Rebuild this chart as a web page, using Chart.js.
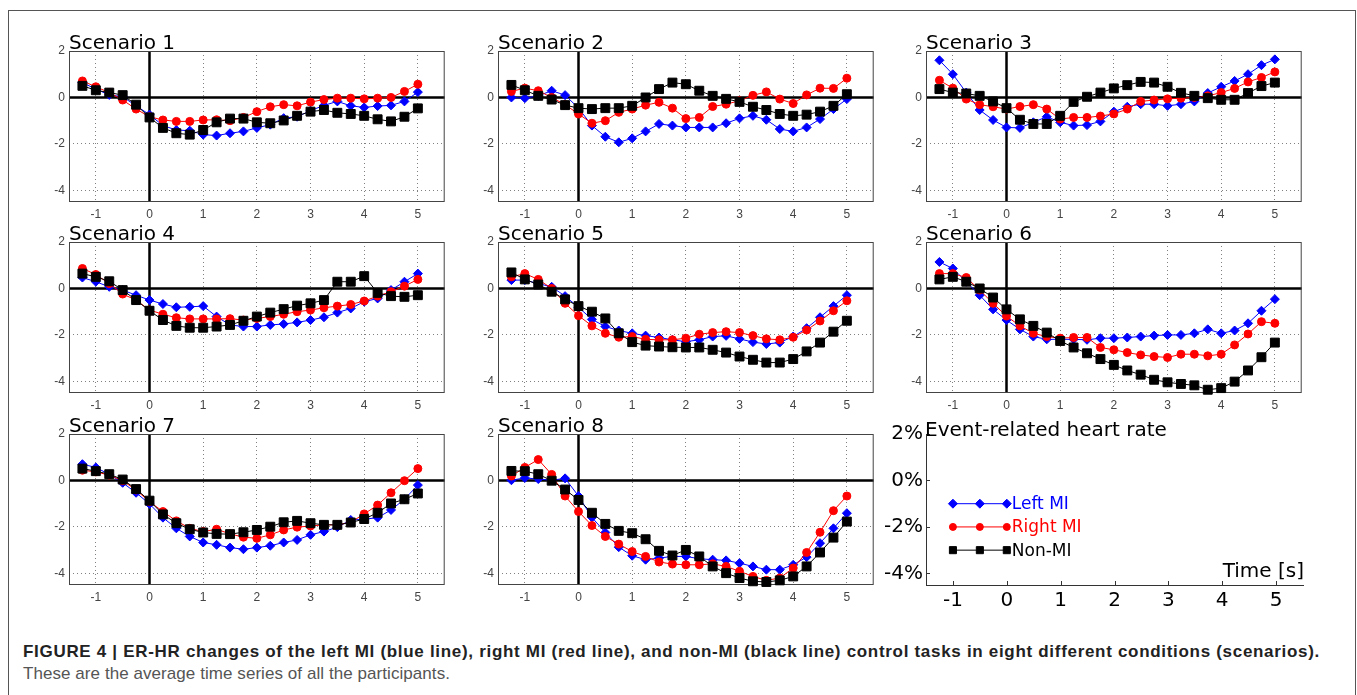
<!DOCTYPE html>
<html>
<head>
<meta charset="utf-8">
<script src="https://cdn.jsdelivr.net/npm/chart.js@4.4.0/dist/chart.umd.min.js"></script>
<style>
  body { margin: 0; background: #fff; }
  #fig { position: relative; width: 1357px; height: 695px; overflow: hidden; background: #fff; }
  #border { position: absolute; left: 8px; top: 10px; width: 1348px; height: 720px; border: 1px solid #555; box-sizing: border-box; }
  canvas { position: absolute; }
  .cap { position: absolute; left: 23px; font-family: "Liberation Sans", Arial, sans-serif; font-size: 17px; line-height: 20px; white-space: nowrap; }
  #cap1 { top: 642px; font-weight: bold; color: #222; }
  #cap2 { top: 664px; color: #555; }
</style>
</head>
<body>
<div id="fig">
  <div id="border"></div>
  <canvas id="c1" width="428" height="195"></canvas>
  <canvas id="c2" width="428" height="195"></canvas>
  <canvas id="c3" width="428" height="195"></canvas>
  <canvas id="c4" width="428" height="195"></canvas>
  <canvas id="c5" width="428" height="195"></canvas>
  <canvas id="c6" width="428" height="195"></canvas>
  <canvas id="c7" width="428" height="195"></canvas>
  <canvas id="c8" width="428" height="195"></canvas>
  <canvas id="cLegend" width="443" height="203"></canvas>
  <div class="cap" id="cap1">FIGURE 4 | ER-HR changes of the left MI (blue line), right MI (red line), and non-MI (black line) control tasks in eight different conditions (scenarios).</div>
  <div class="cap" id="cap2">These are the average time series of all the participants.</div>
</div>
<script>
// time axis (s) and axis ticks
const timePoints = [-1.25, -1, -0.75, -0.5, -0.25, 0, 0.25, 0.5, 0.75, 1, 1.25, 1.5, 1.75, 2, 2.25, 2.5, 2.75, 3, 3.25, 3.5, 3.75, 4, 4.25, 4.5, 4.75, 5];
const xTicks = [-1, 0, 1, 2, 3, 4, 5];
const yTicks = [-4, -2, 0, 2];

// event-related heart rate (%) -- left MI / right MI / non-MI
const s1Left  = [0.64, 0.36, 0.11, 0.03, -0.36, -0.74, -1.21, -1.4, -1.43, -1.6, -1.64, -1.54, -1.46, -1.31, -1.17, -0.89, -0.83, -0.57, -0.34, -0.17, -0.36, -0.43, -0.37, -0.34, -0.17, 0.23];
const s1Right = [0.71, 0.46, 0.21, -0.11, -0.5, -0.83, -0.97, -1.03, -1.03, -0.97, -0.96, -1.0, -0.86, -0.61, -0.4, -0.31, -0.36, -0.2, -0.09, -0.03, -0.03, -0.06, -0.03, 0, 0.26, 0.57];
const s1Non   = [0.5, 0.31, 0.21, 0.1, -0.31, -0.86, -1.31, -1.54, -1.6, -1.4, -1.07, -0.91, -0.91, -1.07, -1.11, -0.99, -0.79, -0.61, -0.54, -0.66, -0.71, -0.79, -0.94, -1.03, -0.83, -0.47];

const s2Left  = [0, -0.03, 0.07, 0.29, 0.1, -0.46, -1.21, -1.69, -1.93, -1.76, -1.46, -1.14, -1.21, -1.29, -1.29, -1.29, -1.11, -0.9, -0.79, -0.96, -1.36, -1.46, -1.29, -0.93, -0.5, -0.07];
const s2Right = [0.26, 0.4, 0.29, 0, -0.31, -0.71, -1.11, -1.0, -0.64, -0.5, -0.33, -0.21, -0.46, -0.91, -0.86, -0.39, -0.29, -0.14, 0.09, 0.24, -0.07, -0.26, 0.11, 0.4, 0.39, 0.83];
const s2Non   = [0.54, 0.31, 0.07, -0.09, -0.33, -0.46, -0.5, -0.46, -0.46, -0.36, 0, 0.36, 0.64, 0.57, 0.29, 0.07, -0.06, -0.19, -0.4, -0.54, -0.71, -0.79, -0.74, -0.61, -0.36, 0.14];

const s3Left  = [1.6, 1.0, 0.21, -0.54, -0.97, -1.29, -1.31, -1.07, -0.83, -1.07, -1.21, -1.19, -1.03, -0.61, -0.4, -0.29, -0.29, -0.36, -0.29, -0.17, 0.19, 0.46, 0.71, 1.0, 1.39, 1.64];
const s3Right = [0.74, 0.4, -0.07, -0.31, -0.4, -0.5, -0.39, -0.31, -0.5, -0.93, -0.86, -0.86, -0.8, -0.71, -0.5, -0.17, -0.11, -0.06, -0.03, 0, 0.07, 0.21, 0.39, 0.67, 0.86, 1.1];
const s3Non   = [0.36, 0.21, 0.17, 0.07, -0.17, -0.46, -0.96, -1.14, -1.14, -0.79, -0.19, 0.03, 0.21, 0.39, 0.53, 0.67, 0.64, 0.46, 0.2, 0.07, -0.03, -0.1, -0.1, 0.19, 0.49, 0.64];

const s4Left  = [0.47, 0.29, 0.07, -0.07, -0.29, -0.5, -0.67, -0.81, -0.79, -0.76, -1.21, -1.57, -1.64, -1.64, -1.57, -1.53, -1.46, -1.36, -1.24, -1.04, -0.86, -0.57, -0.43, -0.07, 0.29, 0.64];
const s4Right = [0.86, 0.6, 0.21, -0.24, -0.5, -0.93, -1.11, -1.26, -1.31, -1.31, -1.31, -1.3, -1.36, -1.29, -1.21, -1.11, -1.0, -0.93, -0.83, -0.76, -0.69, -0.54, -0.33, -0.14, 0.1, 0.39];
const s4Non   = [0.64, 0.5, 0.31, -0.07, -0.5, -0.96, -1.36, -1.61, -1.69, -1.69, -1.64, -1.57, -1.39, -1.21, -1.04, -0.89, -0.74, -0.64, -0.5, 0.29, 0.29, 0.53, -0.19, -0.33, -0.36, -0.29];

const s5Left  = [0.36, 0.36, 0.21, 0.07, -0.33, -0.81, -1.33, -1.64, -1.81, -1.93, -2.03, -2.11, -2.21, -2.29, -2.21, -2.07, -2.04, -2.17, -2.31, -2.39, -2.33, -2.07, -1.71, -1.24, -0.76, -0.29];
const s5Right = [0.5, 0.64, 0.39, 0, -0.64, -1.17, -1.61, -1.93, -2.1, -2.07, -2.19, -2.21, -2.21, -2.14, -1.97, -1.9, -1.86, -1.9, -2.03, -2.17, -2.21, -2.1, -1.79, -1.4, -0.96, -0.53];
const s5Non   = [0.69, 0.39, 0.17, -0.14, -0.47, -0.76, -1.0, -1.29, -1.93, -2.31, -2.46, -2.5, -2.53, -2.54, -2.54, -2.64, -2.76, -2.93, -3.07, -3.19, -3.19, -3.04, -2.71, -2.33, -1.86, -1.39];

const s6Left  = [1.14, 0.86, 0.29, -0.29, -0.9, -1.36, -1.76, -2.07, -2.19, -2.19, -2.19, -2.21, -2.14, -2.14, -2.11, -2.07, -2.03, -2.0, -2.0, -1.93, -1.76, -1.93, -1.81, -1.5, -0.96, -0.46];
const s6Right = [0.64, 0.64, 0.47, -0.07, -0.64, -1.19, -1.61, -1.93, -2.07, -2.14, -2.11, -2.11, -2.54, -2.64, -2.76, -2.86, -2.93, -2.97, -2.83, -2.83, -2.9, -2.83, -2.43, -1.96, -1.43, -1.5];
const s6Non   = [0.39, 0.5, 0.29, 0, -0.39, -0.9, -1.33, -1.61, -1.9, -2.26, -2.54, -2.79, -3.04, -3.29, -3.53, -3.71, -3.93, -4.04, -4.11, -4.17, -4.36, -4.29, -4.01, -3.53, -2.96, -2.33];

const s7Left  = [0.7, 0.56, 0.26, -0.1, -0.53, -1.01, -1.6, -2.06, -2.41, -2.67, -2.77, -2.89, -2.96, -2.89, -2.81, -2.67, -2.56, -2.34, -2.2, -2.01, -1.7, -1.67, -1.6, -1.27, -0.81, -0.2];
const s7Right = [0.44, 0.37, 0.23, -0.01, -0.41, -0.91, -1.34, -1.74, -2.06, -2.2, -2.1, -2.3, -2.44, -2.49, -2.34, -2.13, -2.01, -1.96, -1.91, -1.91, -1.8, -1.44, -1.06, -0.53, -0.01, 0.51];
const s7Non   = [0.51, 0.4, 0.27, 0.04, -0.37, -0.87, -1.46, -1.84, -2.1, -2.24, -2.3, -2.31, -2.23, -2.13, -1.99, -1.8, -1.74, -1.84, -1.91, -1.91, -1.81, -1.66, -1.39, -0.99, -0.81, -0.56];

const s8Left  = [0.01, 0.11, 0.06, 0.01, 0.09, -0.67, -1.59, -2.24, -2.87, -3.24, -3.41, -3.34, -3.27, -3.27, -3.37, -3.41, -3.44, -3.56, -3.7, -3.84, -3.84, -3.63, -3.3, -2.7, -2.06, -1.41];
const s8Right = [0.19, 0.56, 0.9, 0.26, -0.67, -1.34, -1.94, -2.41, -2.74, -3.06, -3.27, -3.51, -3.6, -3.63, -3.63, -3.59, -3.7, -3.91, -4.13, -4.3, -4.2, -3.77, -3.1, -2.23, -1.3, -0.67];
const s8Non   = [0.41, 0.4, 0.27, -0.01, -0.39, -0.84, -1.39, -1.87, -2.17, -2.27, -2.53, -3.03, -3.23, -2.99, -3.27, -3.7, -3.99, -4.2, -4.34, -4.37, -4.3, -4.13, -3.7, -3.1, -2.46, -1.77];

const seriesNames = ['Left MI', 'Right MI', 'Non-MI'];
const scenarioTitles = ['Scenario 1', 'Scenario 2', 'Scenario 3', 'Scenario 4', 'Scenario 5', 'Scenario 6', 'Scenario 7', 'Scenario 8'];
const scenarioData = [
  [s1Left, s1Right, s1Non], [s2Left, s2Right, s2Non], [s3Left, s3Right, s3Non], [s4Left, s4Right, s4Non],
  [s5Left, s5Right, s5Non], [s6Left, s6Right, s6Non], [s7Left, s7Right, s7Non], [s8Left, s8Right, s8Non]
];

// ---- layout ----
const colLeft = [69, 498, 926];
const rowTop = [51, 242, 434];
const PAD_TOP = 22, Y_W = 45, X_H = 22, PAD_RIGHT = 4;

// styles per series: blue diamonds, red circles, black squares
const styles = [
  { color: '#0000ff', pointStyle: 'rectRot', radius: 4.5, order: 2 },
  { color: '#ff0000', pointStyle: 'circle', radius: 4, order: 1 },
  { color: '#000000', pointStyle: 'rect', radius: 6.3, order: 0 }
];

// zero lines, box and panel title
const framePlugin = {
  id: 'frame',
  beforeDatasetsDraw(chart, args, opts) {
    const { ctx, chartArea: a, scales } = chart;
    const x0 = scales.x.getPixelForValue(0);
    const y0 = scales.y.getPixelForValue(0);
    ctx.save();
    ctx.strokeStyle = '#000';
    ctx.lineWidth = 2.5;
    ctx.beginPath();
    ctx.moveTo(a.left, y0); ctx.lineTo(a.right, y0);
    ctx.moveTo(x0, a.top); ctx.lineTo(x0, a.bottom);
    ctx.stroke();
    ctx.strokeStyle = '#444';
    ctx.lineWidth = 1;
    ctx.strokeRect(a.left + 0.5, a.top + 0.5, a.right - a.left - 1, a.bottom - a.top - 1);
    ctx.restore();
  },
  afterDraw(chart, args, opts) {
    const { ctx, chartArea: a } = chart;
    ctx.save();
    ctx.fillStyle = '#000';
    ctx.font = '20px "DejaVu Sans"';
    ctx.textBaseline = 'alphabetic';
    ctx.fillText(opts.title, a.left, a.top - 2);
    ctx.restore();
  }
};

function setTicks(values) {
  return scale => { scale.ticks = values.map(v => ({ value: v })); };
}

function makePanel(idx) {
  const col = idx % 3, row = Math.floor(idx / 3);
  const canvas = document.getElementById('c' + (idx + 1));
  canvas.style.left = (colLeft[col] - Y_W) + 'px';
  canvas.style.top = (rowTop[row] - PAD_TOP) + 'px';

  const datasets = scenarioData[idx].map((vals, k) => ({
    label: seriesNames[k],
    data: timePoints.map((t, i) => ({ x: t, y: vals[i] })),
    borderColor: styles[k].color,
    backgroundColor: styles[k].color,
    borderWidth: 1,
    pointStyle: styles[k].pointStyle,
    pointRadius: styles[k].radius,
    pointBorderWidth: 1,
    order: styles[k].order,
    clip: false,
    tension: 0
  }));

  const tickFont = { family: '"Liberation Sans", Arial, sans-serif', size: 12 };
  new Chart(canvas, {
    type: 'line',
    data: { datasets },
    options: {
      responsive: false,
      animation: false,
      devicePixelRatio: 1,
      layout: { padding: { top: PAD_TOP, right: PAD_RIGHT, left: 0, bottom: 0 } },
      plugins: {
        legend: { display: false },
        tooltip: { enabled: false },
        frame: { title: scenarioTitles[idx] }
      },
      scales: {
        x: {
          type: 'linear', min: -1.5, max: 5.5,
          afterBuildTicks: setTicks(xTicks),
          afterFit: s => { s.height = X_H; },
          grid: { color: '#808080', lineWidth: 1, drawTicks: false },
          border: { display: false, dash: [1, 3] },
          ticks: { padding: 5, color: '#444', font: tickFont }
        },
        y: {
          type: 'linear', min: -4.5, max: 2,
          afterBuildTicks: setTicks(yTicks),
          afterFit: s => { s.width = Y_W; },
          grid: { color: '#808080', lineWidth: 1, drawTicks: false },
          border: { display: false, dash: [1, 3] },
          ticks: { padding: 4, color: '#444', font: tickFont }
        }
      }
    },
    plugins: [framePlugin]
  });
}

for (let i = 0; i < 8; i++) makePanel(i);

// ---- legend panel ----
const legendTicksY = [-4, -2, 0, 2];
const legendSampleX = [-1, -0.5, 0];
const legendRowsY = [-1, -2, -3];
const legendStyles = [
  { color: '#0000ff', pointStyle: 'rectRot', radius: 4.5 },
  { color: '#ff0000', pointStyle: 'circle', radius: 3.5 },
  { color: '#000000', pointStyle: 'rect', radius: 5 }
];

const legendPlugin = {
  id: 'legendPanel',
  afterDraw(chart) {
    const { ctx, chartArea: a, scales } = chart;
    ctx.save();
    // inward tick marks
    ctx.strokeStyle = '#333';
    ctx.lineWidth = 1;
    ctx.beginPath();
    xTicks.forEach(v => {
      const px = Math.round(scales.x.getPixelForValue(v)) + 0.5;
      ctx.moveTo(px, a.bottom); ctx.lineTo(px, a.bottom - 4);
    });
    legendTicksY.forEach(v => {
      const py = Math.round(scales.y.getPixelForValue(v)) + 0.5;
      ctx.moveTo(a.left, py); ctx.lineTo(a.left + 4, py);
    });
    ctx.stroke();

    ctx.fillStyle = '#000';
    ctx.font = '20px "DejaVu Sans"';
    ctx.textBaseline = 'alphabetic';
    ctx.textAlign = 'left';
    ctx.fillText('Event-related heart rate', a.left - 1, a.top + 2);
    ctx.textAlign = 'right';
    ctx.fillText('Time [s]', a.right + 1, a.bottom - 8);

    ctx.font = '17px "DejaVu Sans"';
    ctx.textAlign = 'left';
    ctx.textBaseline = 'middle';
    const xText = scales.x.getPixelForValue(legendSampleX[legendSampleX.length - 1]) + 5;
    seriesNames.forEach((name, k) => {
      ctx.fillStyle = legendStyles[k].color;
      ctx.fillText(name, xText, scales.y.getPixelForValue(legendRowsY[k]) + 1);
    });
    ctx.restore();
  }
};

(function makeLegend() {
  const canvas = document.getElementById('cLegend');
  const LY_W = 60, LX_H = 30;
  canvas.style.left = (colLeft[2] - LY_W) + 'px';
  canvas.style.top = (rowTop[2] - PAD_TOP) + 'px';
  const bigFont = { family: '"DejaVu Sans", sans-serif', size: 20 };

  const datasets = seriesNames.map((name, k) => ({
    label: name,
    data: legendSampleX.map(x => ({ x: x, y: legendRowsY[k] })),
    borderColor: legendStyles[k].color,
    backgroundColor: legendStyles[k].color,
    borderWidth: 1,
    pointStyle: legendStyles[k].pointStyle,
    pointRadius: legendStyles[k].radius,
    clip: false
  }));

  new Chart(canvas, {
    type: 'line',
    data: { datasets },
    options: {
      responsive: false,
      animation: false,
      devicePixelRatio: 1,
      layout: { padding: { top: PAD_TOP, right: 6, left: 0, bottom: 0 } },
      plugins: { legend: { display: false }, tooltip: { enabled: false } },
      scales: {
        x: {
          type: 'linear', min: -1.5, max: 5.5,
          afterBuildTicks: setTicks(xTicks),
          afterFit: s => { s.height = LX_H; },
          grid: { display: false, drawTicks: false },
          border: { display: true, color: '#333', width: 1 },
          ticks: { padding: 4, color: '#000', font: bigFont }
        },
        y: {
          type: 'linear', min: -4.5, max: 2,
          afterBuildTicks: setTicks(legendTicksY),
          afterFit: s => { s.width = LY_W; },
          grid: { display: false, drawTicks: false },
          border: { display: true, color: '#333', width: 1 },
          ticks: { padding: 3, color: '#000', font: bigFont, callback: v => v + '%' }
        }
      }
    },
    plugins: [legendPlugin]
  });
})();

// stretch the caption lines to the width they take in the figure
function fitCaption(id, target) {
  const el = document.getElementById(id);
  const w = el.getBoundingClientRect().width;
  el.style.letterSpacing = ((target - w) / el.textContent.length) + 'px';
}
fitCaption('cap1', 1297);
fitCaption('cap2', 427);
</script>
</body>
</html>
